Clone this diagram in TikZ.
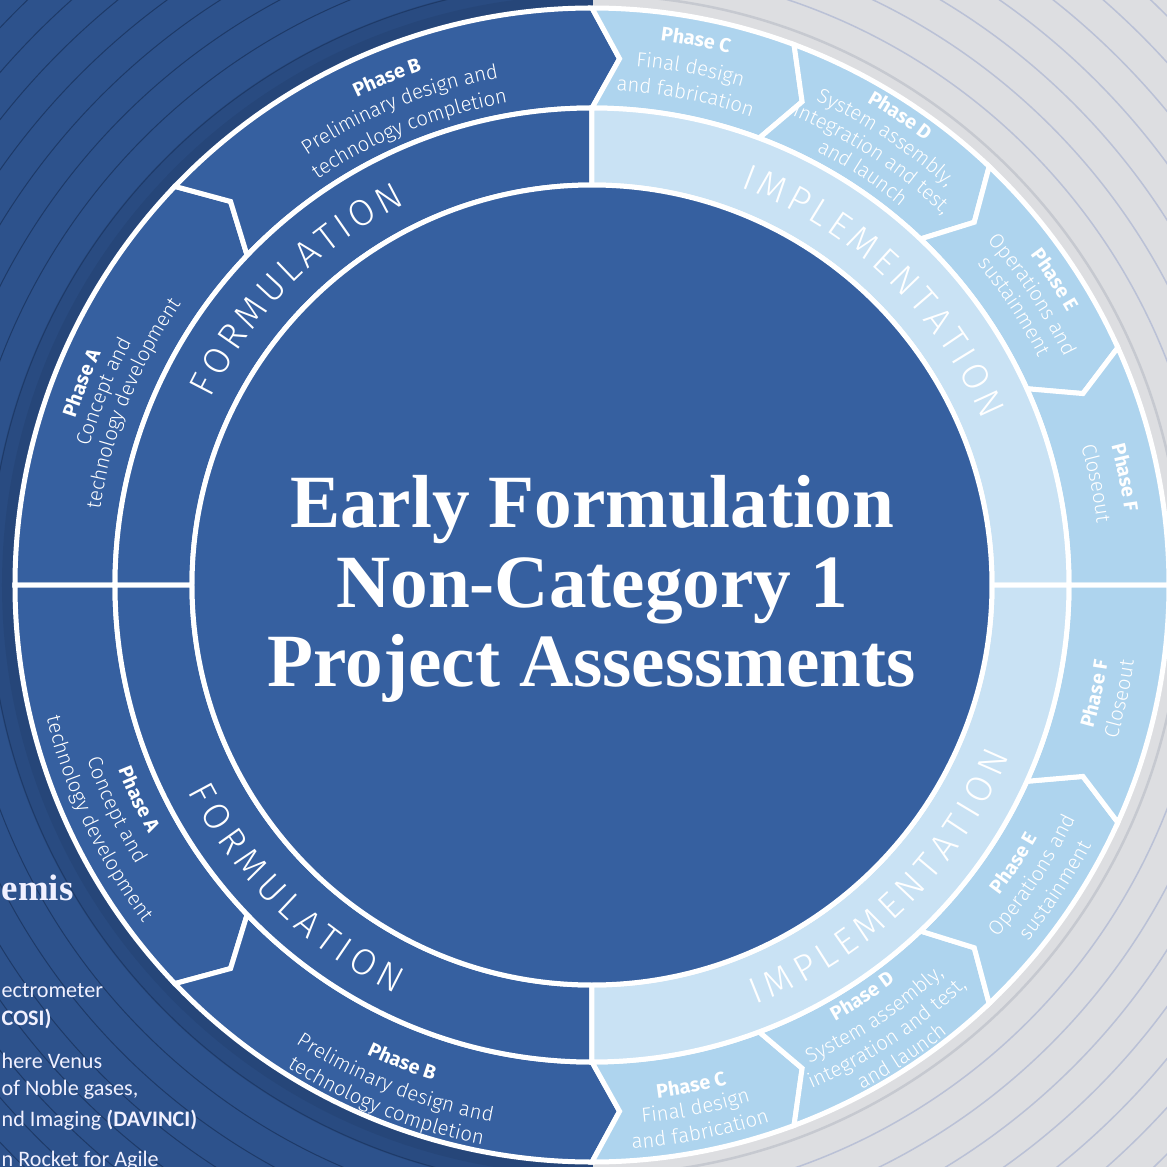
\documentclass[tikz,border=0pt]{standalone}
\usepackage{fontspec}
\setmainfont{Liberation Serif}
\newfontfamily\phasefam{Fira Sans}
\newfontfamily\lightfam{Fira Sans Light}
\newfontfamily\notefam{Carlito}
\usetikzlibrary{decorations.text}
\definecolor{navybg}{HTML}{2D528C}
\definecolor{navyarc}{HTML}{1E3A68}
\definecolor{ringdark}{HTML}{3660A0}
\definecolor{ringlight}{HTML}{AED4EE}
\definecolor{bandlight}{HTML}{C9E2F4}
\definecolor{greybg}{HTML}{DDDEE1}
\definecolor{greyarc}{HTML}{BAC1D6}
\definecolor{haloline}{HTML}{C6C9D0}

\newcommand\phB{\phasefam\bfseries\fontsize{5.6pt}{6pt}\selectfont}
\newcommand\phL{\lightfam\fontsize{5.8pt}{6pt}\selectfont}
\newcommand\bandL{\lightfam\fontsize{10.5pt}{12pt}\selectfont\fontdimen2\font=1.5pt}

% text on an arc: raise, radius, centre angle, format, text
\newcommand\upt[5]{\path[decorate, decoration={text along path, text align=center,
  raise=#1, text color=white, text={|#4|#5}}]
  ({#3+40}:#2) arc[start angle={#3+40}, delta angle=-80, radius=#2];}
\newcommand\lowt[5]{\path[decorate, decoration={text along path, text align=center,
  raise=#1, text color=white, text={|#4|#5}}]
  ({#3-40}:#2) arc[start angle={#3-40}, delta angle=80, radius=#2];}
% phase segment: fill, start, end, notch at start, tip at end
\newcommand\phaseseg[5]{\filldraw[seg, fill=#1] (#2:577) arc[start angle=#2, end angle=#3, radius=577]
  -- ({#3-#5}:527) -- (#3:477) arc[start angle=#3, end angle=#2, radius=477] -- ({#2-#4}:527) -- cycle;}

\begin{document}
\begin{tikzpicture}[x=0.1mm, y=0.1mm,
  seg/.style={draw=white, line width=0.5mm},
  headline/.style={font=\bfseries\fontsize{21.4pt}{23pt}\selectfont, text=white, anchor=base},
  sidenote/.style={font=\notefam\fontsize{6.3pt}{7pt}\selectfont, text=white!94!blue,
    anchor=base west, inner sep=0}]
  \useasboundingbox (-592,-582) rectangle (575,585);
  \clip (-592,-582) rectangle (575,585);
  % background halves
  \fill[navybg] (-592,-582) rectangle (1,585);
  \fill[greybg] (1,-582) rectangle (575,585);
  \begin{scope}
    \clip (-592,-582) rectangle (1,585);
    \fill[black, opacity=0.08] (0,0) circle[radius=604];
    \fill[black, opacity=0.06] (0,0) circle[radius=590];
    \foreach \r in {603,633,...,843} \draw[navyarc, line width=0.1mm] (0,0) circle[radius=\r];
  \end{scope}
  \begin{scope}
    \clip (1,-582) rectangle (575,585);
    \draw[haloline, line width=0.25mm] (0,0) circle[radius=590];
    \foreach \r in {617,649,...,841} \draw[greyarc, line width=0.15mm] (0,0) circle[radius=\r];
  \end{scope}
  % outer ring of phases, upper half and its mirror
  \foreach \ys in {1,-1} {
    \begin{scope}[yscale=\ys]
      \phaseseg{ringdark}{180}{136.3}{0}{3}
      \phaseseg{ringdark}{136.3}{90}{3}{3}
      \phaseseg{ringlight}{90}{69.5}{3}{3}
      \phaseseg{ringlight}{69.5}{46.5}{3}{3}
      \phaseseg{ringlight}{46.5}{24.3}{3}{3}
      \phaseseg{ringlight}{24.3}{0}{3}{0}
      \filldraw[seg, fill=ringdark] (180:477) arc[start angle=180, end angle=90, radius=477]
        -- (90:400) arc[start angle=90, end angle=180, radius=400] -- cycle;
      \filldraw[seg, fill=bandlight] (90:477) arc[start angle=90, end angle=0, radius=477]
        -- (0:400) arc[start angle=0, end angle=90, radius=400] -- cycle;
    \end{scope}
  }
  \node[circle, draw=white, line width=0.5mm, fill=ringdark, minimum size=80mm, inner sep=0] (core) at (0,0) {};
  \node[headline] (title1) at (0,58) {Early Formulation};
  \node[headline] (title2) at (0,-22) {Non-Category 1};
  \node[headline] (title3) at (0,-101) {Project Assessments};
  % band labels
  \upt{-3.6pt}{437}{135}{\bandL}{F O R M U L A T I O N}
  \upt{-3.6pt}{437}{46.2}{\bandL}{I M P L E M E N T A T I O N}
  \lowt{-3.6pt}{441}{-134.3}{\bandL}{F O R M U L A T I O N}
  \lowt{-3.6pt}{438}{-45.5}{\bandL}{I M P L E M E N T A T I O N}
  % upper phases
  \upt{-1.8pt}{549}{158.4}{\phB}{Phase A}
  \upt{-1.8pt}{527}{158.4}{\phL}{Concept and}
  \upt{-1.8pt}{504}{158.4}{\phL}{technology development}
  \upt{-1.8pt}{548}{112}{\phB}{Phase B}
  \upt{-1.8pt}{522}{112}{\phL}{Preliminary design and}
  \upt{-1.8pt}{496}{112}{\phL}{technology completion}
  \upt{-1.8pt}{555}{79.2}{\phB}{Phase C}
  \upt{-1.8pt}{527}{79.2}{\phL}{Final design}
  \upt{-1.8pt}{501}{79.2}{\phL}{and fabrication}
  \upt{-1.8pt}{562}{56.7}{\phB}{Phase D}
  \upt{-1.8pt}{540}{56.7}{\phL}{System assembly,}
  \upt{-1.8pt}{517}{56.7}{\phL}{integration and test,}
  \upt{-1.8pt}{495}{56.7}{\phL}{and launch}
  \upt{-1.8pt}{555}{33.4}{\phB}{Phase E}
  \upt{-1.8pt}{531}{33.4}{\phL}{Operations and}
  \upt{-1.8pt}{508}{33.4}{\phL}{sustainment}
  \upt{-1.8pt}{544}{11.4}{\phB}{Phase F}
  \upt{-1.8pt}{515}{11.4}{\phL}{Closeout}
  % lower phases
  \lowt{-1.8pt}{502}{-154.7}{\phB}{Phase A}
  \lowt{-1.8pt}{528}{-154.7}{\phL}{Concept and}
  \lowt{-1.8pt}{555}{-154.7}{\phL}{technology development}
  \lowt{-1.8pt}{514}{-111.7}{\phB}{Phase B}
  \lowt{-1.8pt}{540}{-111.7}{\phL}{Preliminary design and}
  \lowt{-1.8pt}{564}{-111.7}{\phL}{technology completion}
  \lowt{-1.8pt}{511}{-78.8}{\phB}{Phase C}
  \lowt{-1.8pt}{534}{-78.8}{\phL}{Final design}
  \lowt{-1.8pt}{559}{-78.8}{\phL}{and fabrication}
  \lowt{-1.8pt}{493}{-56.7}{\phB}{Phase D}
  \lowt{-1.8pt}{519}{-56.7}{\phL}{System assembly,}
  \lowt{-1.8pt}{543}{-56.7}{\phL}{integration and test,}
  \lowt{-1.8pt}{566}{-56.7}{\phL}{and launch}
  \lowt{-1.8pt}{506}{-33.4}{\phB}{Phase E}
  \lowt{-1.8pt}{531}{-33.4}{\phL}{Operations and}
  \lowt{-1.8pt}{557}{-33.4}{\phL}{sustainment}
  \lowt{-1.8pt}{515}{-12.2}{\phB}{Phase F}
  \lowt{-1.8pt}{541}{-12.2}{\phL}{Closeout}
  % mission list at the left edge
  \node[sidenote, font=\bfseries\fontsize{10.5pt}{12pt}\selectfont] (artemis) at (-591,-315) {emis};
  \node[sidenote] (cosi1) at (-591,-412) {ectrometer};
  \node[sidenote] (cosi2) at (-591,-440) {\bfseries COSI)};
  \node[sidenote] (davinci1) at (-591,-483) {here Venus};
  \node[sidenote] (davinci2) at (-591,-510) {of Noble gases,};
  \node[sidenote] (davinci3) at (-591,-541) {nd Imaging \textbf{(DAVINCI)}};
  \node[sidenote] (rocket) at (-591,-581) {n Rocket for Agile};
\end{tikzpicture}
\end{document}
